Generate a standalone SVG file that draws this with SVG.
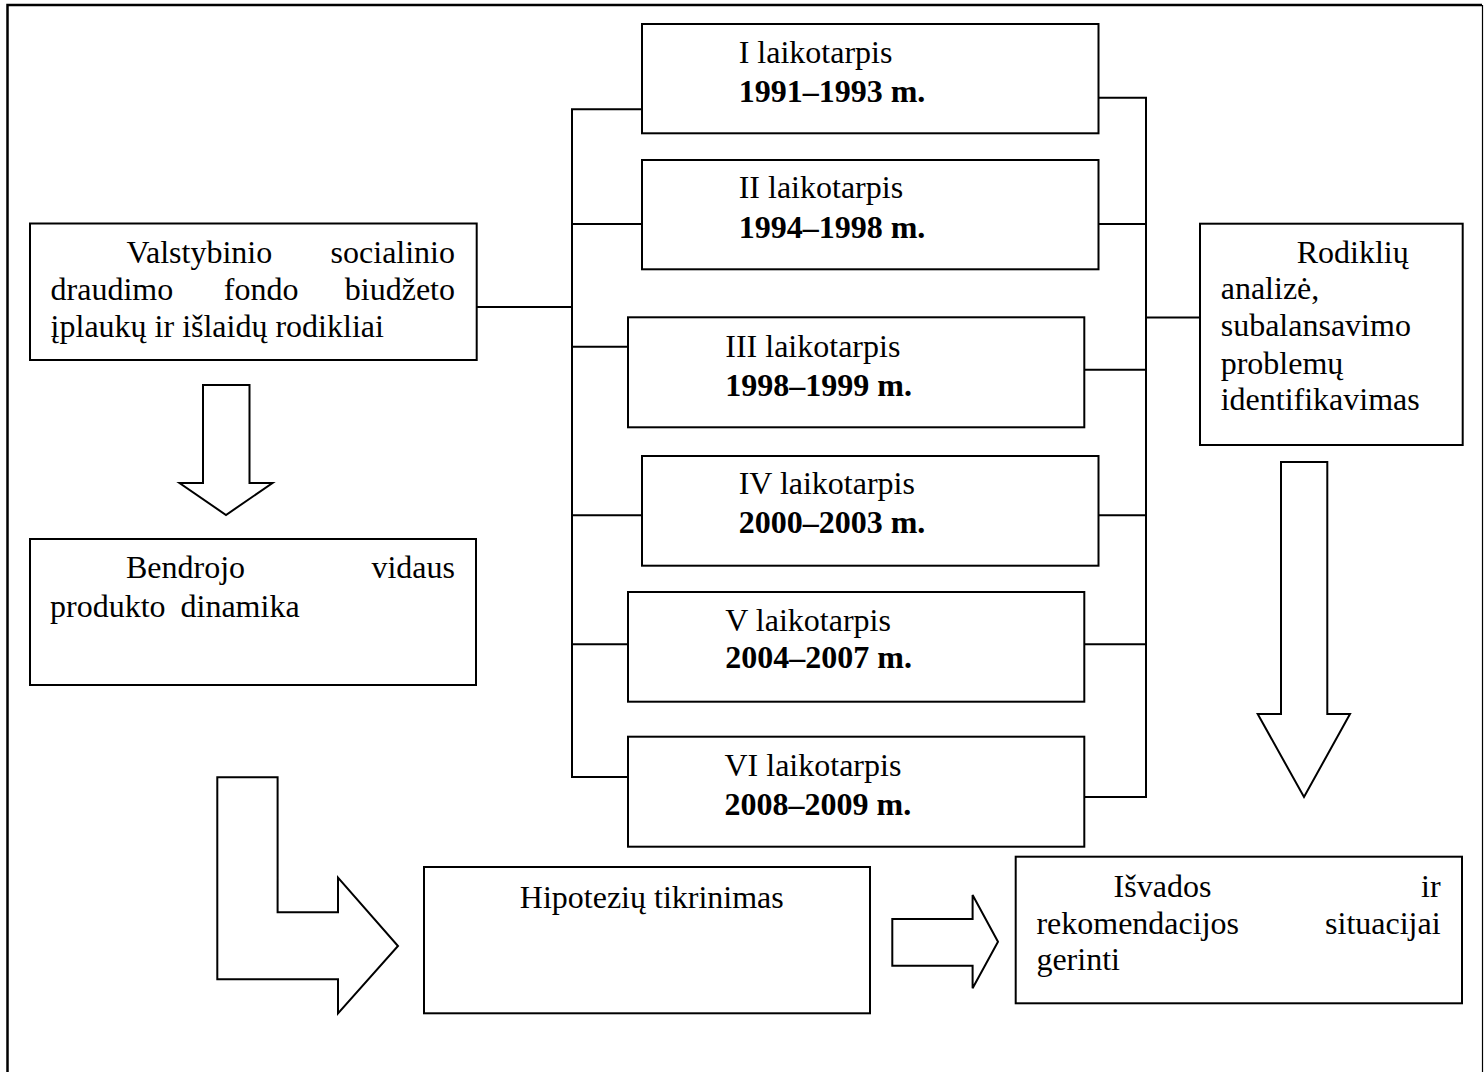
<svg xmlns="http://www.w3.org/2000/svg" width="1484" height="1072" viewBox="0 0 1484 1072">
<style>
.box{fill:#fff;stroke:#000;stroke-width:2}
.ln{fill:none;stroke:#000;stroke-width:2}
.ar{fill:#fff;stroke:#000;stroke-width:2;stroke-linejoin:miter}
text{font-family:"Liberation Serif","Times New Roman",serif;font-size:32px;fill:#000}
.b{font-weight:bold}
.e{text-anchor:end}
</style>
<rect width="1484" height="1072" fill="#fff"/>
<g id="frame">
<path d="M7.5,1072 V5 H1482" fill="none" stroke="#000" stroke-width="2.5"/>
<path d="M1482.5,5 V1072" fill="none" stroke="#000" stroke-width="1.2"/>
</g>
<g id="connectors">
<path class="ln" d="M476.7,307 H572"/>
<path class="ln" d="M642,109.3 H572 V777 H628"/>
<path class="ln" d="M572,224 H642"/>
<path class="ln" d="M572,346.7 H628"/>
<path class="ln" d="M572,515.3 H642"/>
<path class="ln" d="M572,644.3 H628"/>
<path class="ln" d="M1098.5,97.7 H1146 V797 H1084.3"/>
<path class="ln" d="M1098.5,224 H1146"/>
<path class="ln" d="M1084.3,369.7 H1146"/>
<path class="ln" d="M1098.5,515.3 H1146"/>
<path class="ln" d="M1084.3,644.3 H1146"/>
<path class="ln" d="M1146,317.4 H1200"/>
<polygon id="arrow-down-left" class="ar" points="203,385 249.5,385 249.5,483 272.5,483 226,515 179.5,483 203,483"/>
<polygon id="arrow-down-right" class="ar" points="1281,462 1327.3,462 1327.3,714 1350,714 1304,797 1257.7,714 1281,714"/>
<polygon id="arrow-bent" class="ar" points="217.3,777.3 277.6,777.3 277.6,912.3 338,912.3 338,877.7 398,946 338,1013.3 338,979.3 217.3,979.3"/>
<polygon id="arrow-right" class="ar" points="892.3,919 972.6,919 972.6,895 998,941.7 972.6,988.3 972.6,965.7 892.3,965.7"/>
</g>
<g id="node-fondas">
<rect class="box" x="30" y="223.5" width="446.7" height="136.5"/>
<text x="126.4" y="263.3">Valstybinio</text>
<text class="e" x="455" y="263.3">socialinio</text>
<text x="50.6" y="300">draudimo</text>
<text x="223.8" y="300">fondo</text>
<text class="e" x="455" y="300">biudžeto</text>
<text x="50.6" y="336.7">įplaukų ir išlaidų rodikliai</text>
</g>
<g id="node-bvp">
<rect class="box" x="30" y="539" width="446" height="146"/>
<text x="126" y="578.3">Bendrojo</text>
<text class="e" x="455" y="578.3">vidaus</text>
<text x="50" y="616.7">produkto<tspan x="180.5">dinamika</tspan></text>
</g>
<g id="node-p1">
<rect class="box" x="642" y="24" width="456.5" height="109.3"/>
<text x="738.7" y="63.3">I laikotarpis</text>
<text class="b" x="738.7" y="101.7">1991–1993 m.</text>
</g>
<g id="node-p2">
<rect class="box" x="642" y="160" width="456.5" height="109.3"/>
<text x="738.7" y="198.3">II laikotarpis</text>
<text class="b" x="738.7" y="237.7">1994–1998 m.</text>
</g>
<g id="node-p3">
<rect class="box" x="628" y="317.3" width="456.3" height="110"/>
<text x="725.3" y="356.7">III laikotarpis</text>
<text class="b" x="725.3" y="395.7">1998–1999 m.</text>
</g>
<g id="node-p4">
<rect class="box" x="642" y="456" width="456.5" height="109.7"/>
<text x="738.7" y="494">IV laikotarpis</text>
<text class="b" x="738.7" y="533.3">2000–2003 m.</text>
</g>
<g id="node-p5">
<rect class="box" x="628" y="592" width="456.3" height="109.7"/>
<text x="725.3" y="630.7">V laikotarpis</text>
<text class="b" x="725.3" y="668.3">2004–2007 m.</text>
</g>
<g id="node-p6">
<rect class="box" x="628" y="736.7" width="456.3" height="110"/>
<text x="724.5" y="775.5">VI laikotarpis</text>
<text class="b" x="724.5" y="814.5">2008–2009 m.</text>
</g>
<g id="node-analize">
<rect class="box" x="1200" y="223.7" width="262.7" height="221.3"/>
<text x="1296.7" y="263.3">Rodiklių</text>
<text x="1220.7" y="299">analizė,</text>
<text x="1220.7" y="336.4">subalansavimo</text>
<text x="1220.7" y="374">problemų</text>
<text x="1220.7" y="409.6">identifikavimas</text>
</g>
<g id="node-hipotezes">
<rect class="box" x="424" y="867" width="446" height="146.3"/>
<text x="519.8" y="907.7">Hipotezių tikrinimas</text>
</g>
<g id="node-isvados">
<rect class="box" x="1015.7" y="856.7" width="446.3" height="146.6"/>
<text x="1113.6" y="897.3">Išvados</text>
<text class="e" x="1440.6" y="897.3">ir</text>
<text x="1036.4" y="934">rekomendacijos</text>
<text class="e" x="1440.6" y="934">situacijai</text>
<text x="1036.4" y="970">gerinti</text>
</g>
</svg>
